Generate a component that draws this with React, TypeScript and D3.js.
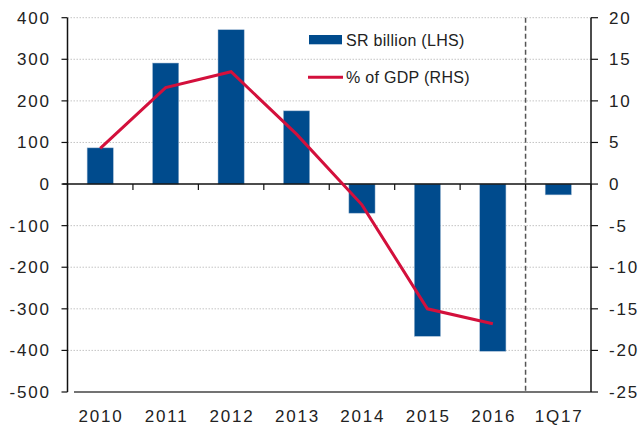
import React from "react";
import * as d3 from "d3";

const categories = ["2010", "2011", "2012", "2013", "2014", "2015", "2016", "1Q17"];
const balanceSR = [87, 291, 371, 176, -70, -366, -402, -26];
const lineCategories = ["2010", "2011", "2012", "2013", "2014", "2015", "2016"];
const pctGDP = [4.3, 11.6, 13.5, 6.0, -2.5, -15.0, -16.8];
const leftTicks = [400, 300, 200, 100, 0, -100, -200, -300, -400, -500];
const rightTicks = [20, 15, 10, 5, 0, -5, -10, -15, -20, -25];

const W = 640;
const H = 425;
const X0 = 67.5;
const X1 = 591;
const YT = 17.7;
const YB = 392;
const BLUE = "#004b8d";
const RED = "#d3103c";
const FONT = "Liberation Sans, Arial, sans-serif";
const LS = 1.8;

export default function App() {
  const x = d3.scaleBand<string>().domain(categories).range([X0, X1]).padding(0);
  const yL = d3.scaleLinear().domain([-500, 400]).range([YB, YT]);
  const yR = d3.scaleLinear().domain([-25, 20]).range([YB, YT]);
  const bw = x.bandwidth() * 0.4;
  const line = d3
    .line<number>()
    .x((_, i) => (x(lineCategories[i]) as number) + x.bandwidth() / 2)
    .y((d) => yR(d));
  const boundaries = categories.map((c) => x(c) as number).concat([X1]);
  const dashX = x("1Q17") as number;

  return (
    <svg
      width={W}
      height={H}
      style={{ position: "absolute", left: 0, top: 0, background: "#fff" }}
      fontFamily={FONT}
    >
      {/* gridlines */}
      {leftTicks
        .filter((t) => t !== 0 && t !== -500)
        .map((t) => (
          <line
            key={"g" + t}
            x1={X0}
            x2={X1}
            y1={yL(t)}
            y2={yL(t)}
            stroke="#b5b5b5"
            strokeWidth={0.8}
            strokeDasharray="1.5,1.5"
          />
        ))}
      {/* bars */}
      {categories.map((c, i) => {
        const v = balanceSR[i];
        const cx = (x(c) as number) + x.bandwidth() / 2;
        return (
          <rect
            key={"b" + c}
            x={cx - bw / 2}
            y={Math.min(yL(v), yL(0))}
            width={bw}
            height={Math.abs(yL(v) - yL(0))}
            fill={BLUE}
            stroke="#9db7d2"
            strokeWidth={0.5}
          />
        );
      })}
      {/* dashed separator */}
      <line x1={dashX} x2={dashX} y1={YT} y2={YB} stroke="#555" strokeWidth={1.5} strokeDasharray="5,3" />
      {/* zero line */}
      <line x1={X0 - 5} x2={X1} y1={yL(0)} y2={yL(0)} stroke="#111" strokeWidth={1.5} />
      {boundaries.map((b, i) => (
        <line key={"zt" + i} x1={b} x2={b} y1={yL(0)} y2={yL(0) + 6} stroke="#111" strokeWidth={1.2} />
      ))}
      {/* bottom line */}
      <line x1={74} x2={X1} y1={YB} y2={YB} stroke="#444" strokeWidth={1.5} />
      {/* line series */}
      <path d={line(pctGDP) || ""} fill="none" stroke={RED} strokeWidth={3} strokeLinejoin="miter" />
      {/* left axis */}
      <line x1={X0} x2={X0} y1={YT} y2={YB} stroke="#111" strokeWidth={1.5} />
      {leftTicks.map((t) => (
        <g key={"l" + t}>
          <line x1={X0 - 6} x2={X0} y1={yL(t)} y2={yL(t)} stroke="#111" strokeWidth={1.2} />
          <text x={49 + LS} y={yL(t) + 6} textAnchor="end" fontSize={17} letterSpacing={LS} fill="#222">
            {t}
          </text>
        </g>
      ))}
      {/* right axis */}
      <line x1={X1} x2={X1} y1={YT} y2={YB} stroke="#111" strokeWidth={1.5} />
      {rightTicks.map((t) => (
        <g key={"r" + t}>
          <line x1={X1} x2={X1 + 7} y1={yR(t)} y2={yR(t)} stroke="#111" strokeWidth={1.2} />
          <text x={609} y={yR(t) + 6} textAnchor="start" fontSize={17} letterSpacing={LS} fill="#222">
            {t}
          </text>
        </g>
      ))}
      {/* x labels */}
      {categories.map((c) => (
        <text
          key={"x" + c}
          x={(x(c) as number) + x.bandwidth() / 2 + LS / 2}
          y={422}
          textAnchor="middle"
          fontSize={17}
          letterSpacing={LS}
          fill="#222"
        >
          {c}
        </text>
      ))}
      {/* legend */}
      <rect x={309} y={35} width={33} height={9.3} fill={BLUE} />
      <text x={346} y={45.5} fontSize={16} letterSpacing={0.3} fill="#222">
        SR billion (LHS)
      </text>
      <line x1={308} x2={343} y1={77.3} y2={77.3} stroke={RED} strokeWidth={3} />
      <text x={346} y={83} fontSize={16} letterSpacing={0.3} fill="#222">
        % of GDP (RHS)
      </text>
    </svg>
  );
}
